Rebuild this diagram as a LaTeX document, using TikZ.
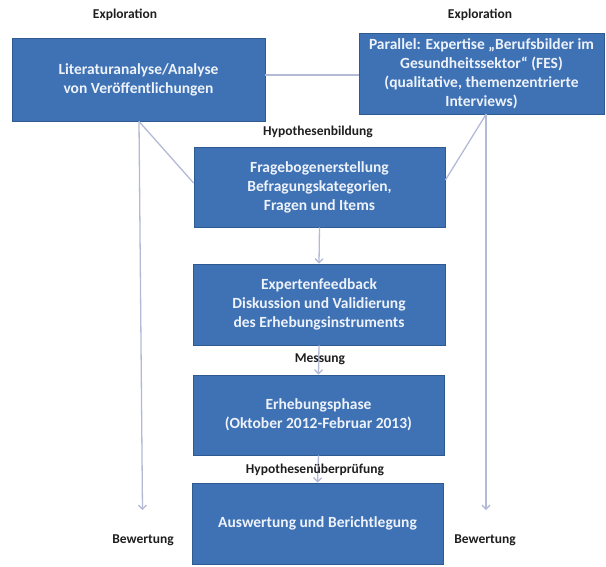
\documentclass[tikz,border=0pt]{standalone}
\usepackage{fontspec}
\setmainfont{Carlito}
\usetikzlibrary{arrows.meta,calc}
\definecolor{boxfill}{HTML}{3E72B4}
\definecolor{boxedge}{HTML}{2E5A92}
\definecolor{boxtext}{HTML}{EEF2FA}
\definecolor{linkcol}{HTML}{B3BAD6}
\definecolor{labcol}{HTML}{1E1E1E}
\tikzset{
  stagebox/.style={draw=boxedge, line width=0.8pt, fill=boxfill, text=boxtext,
    font=\fontsize{15.5}{19}\selectfont\bfseries, align=center, inner sep=0pt},
  phaselabel/.style={text=labcol, font=\fontsize{13.5}{15}\selectfont\bfseries, inner sep=1pt},
  link/.style={draw=linkcol, line width=1.3pt},
  arrowlink/.style={link, -{Straight Barb[length=4pt,width=8pt]}}
}
\begin{document}
\begin{tikzpicture}[x=1pt,y=-1pt]
\useasboundingbox (0,0) rectangle (606,566);

% stages
\node[stagebox, minimum width=253pt, minimum height=83pt] (lit) at (138.5,79.5)
  {Literaturanalyse/Analyse\\von Veröffentlichungen};
\node[stagebox, minimum width=245pt, minimum height=81pt] (fes) at (481.5,73.5)
  {Parallel: Expertise „Berufsbilder im\\Gesundheitssektor“ (FES)\\(qualitative, themenzentrierte\\Interviews)};
\node[stagebox, minimum width=251pt, minimum height=80pt] (frage) at (319.5,187)
  {Fragebogenerstellung\\Befragungskategorien,\\Fragen und Items};
\node[stagebox, minimum width=252pt, minimum height=81pt] (experten) at (319,304.5)
  {Expertenfeedback\\Diskussion und Validierung\\des Erhebungsinstruments};
\node[stagebox, minimum width=251pt, minimum height=80pt] (erhebung) at (318.5,415)
  {Erhebungsphase\\(Oktober 2012-Februar 2013)};
\node[stagebox, minimum width=251pt, minimum height=81pt] (auswertung) at (317.5,523.5)
  {Auswertung und Berichtlegung};

% branch points and free ends of the side arrows
\coordinate (ltop) at ($(lit.south)+(0.5,0)$);
\coordinate (lend) at (142.5,510);
\coordinate (rtop) at ($(fes.south)+(4.5,0)$);
\coordinate (rend) at (486,510);

% connectors
\draw[link] (lit.east |- 0,75) -- (fes.west |- 0,75);
\draw[link] (ltop) -- ($(frage.west)+(0,-4)$);
\draw[link] (rtop) -- ($(frage.east)+(0,-7)$);
\draw[arrowlink] (ltop) -- (lend);
\draw[arrowlink] (rtop) -- (rend);
\draw[arrowlink] (frage.south) -- (experten.north);
\draw[arrowlink] (experten.south) -- (erhebung.north);
\draw[arrowlink] (erhebung.south) -- (auswertung.north);

% phase labels
\node[phaselabel] (expl1) at (125,15) {Exploration};
\node[phaselabel] (expl2) at (480,15) {Exploration};
\node[phaselabel] (hypb) at (318,132) {Hypothesenbildung};
\node[phaselabel] (mess) at (320,359) {Messung};
\node[phaselabel] (hypu) at (315,470) {Hypothesenüberprüfung};
\node[phaselabel] (bew1) at (143,540) {Bewertung};
\node[phaselabel] (bew2) at (485,540) {Bewertung};
\end{tikzpicture}
\end{document}
